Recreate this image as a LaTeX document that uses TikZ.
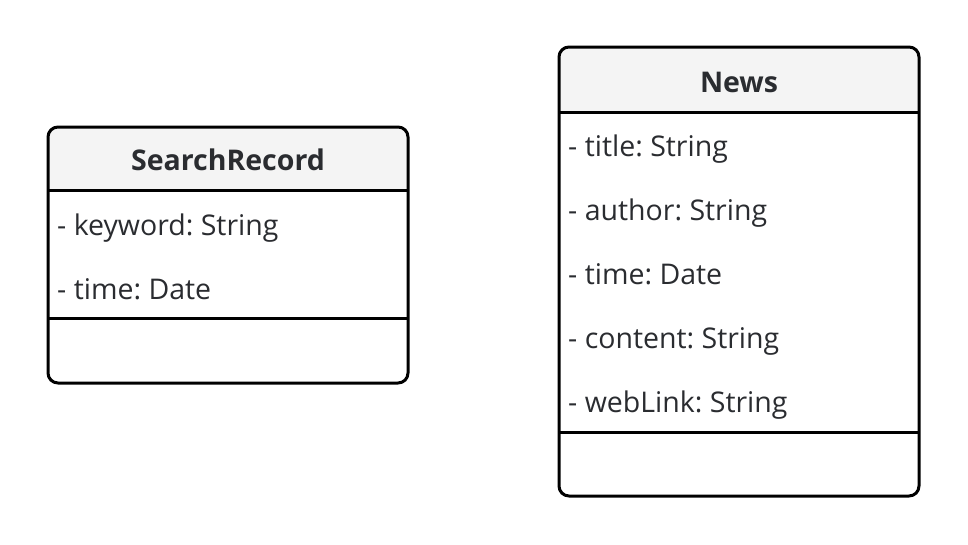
\documentclass[tikz,border=0pt]{standalone}
\usepackage{fontspec}
\setmainfont{Open Sans}
\frenchspacing
\usetikzlibrary{positioning}
\definecolor{inkgray}{HTML}{2A2C30}
\definecolor{headgray}{HTML}{F4F4F4}
\tikzset{
  classframe/.style={draw=black, line width=3pt, rounded corners=10pt},
  classname/.style={font=\bfseries\fontsize{28.5}{30}\selectfont, text=inkgray, inner sep=0pt, anchor=base},
  attr/.style={font=\fontsize{28.5}{30}\selectfont, text=inkgray, inner sep=0pt, anchor=base west},
  divider/.style={line width=3pt},
}

\begin{document}
\begin{tikzpicture}[x=1pt,y=-1pt]
    \useasboundingbox (0,0) rectangle (968,544);
    %definitions
    \coordinate (S1) at (48,127);
    \coordinate (S2) at (408,383);
    \coordinate (N1) at (559,47);
    \coordinate (N2) at (919,496);
    %header fill
    \begin{scope}
        \clip[rounded corners=10pt] (S1) rectangle (S2);
        \fill[headgray] (S1) rectangle (408,190);
    \end{scope}
    \begin{scope}
        \clip[rounded corners=10pt] (N1) rectangle (N2);
        \fill[headgray] (N1) rectangle (919,112);
    \end{scope}
    %drawing
    \draw[classframe] (S1) rectangle (S2);
    \draw[divider] (48,190) coordinate (s1l) -- (408,190) coordinate (s1r);
    \draw[divider] (48,318) coordinate (s2l) -- (408,318) coordinate (s2r);
    \draw[classframe] (N1) rectangle (N2);
    \draw[divider] (559,112) coordinate (n1l) -- (919,112) coordinate (n1r);
    \draw[divider] (559,432) coordinate (n2l) -- (919,432) coordinate (n2r);
    %label
    \node[classname] (srName) at (228,170) {SearchRecord};
    \node[attr] (srKeyword) at (57,235) {- keyword: String};
    \node[attr] (srTime) at (57,299) {- time: Date};
    \node[classname] (newsName) at (739,92) {News};
    \node[attr] (newsTitle) at (568,156) {- title: String};
    \node[attr] (newsAuthor) at (568,220) {- author: String};
    \node[attr] (newsTime) at (568,284) {- time: Date};
    \node[attr] (newsContent) at (568,348) {- content: String};
    \node[attr] (newsLink) at (568,412) {- webLink: String};
\end{tikzpicture}
\end{document}
